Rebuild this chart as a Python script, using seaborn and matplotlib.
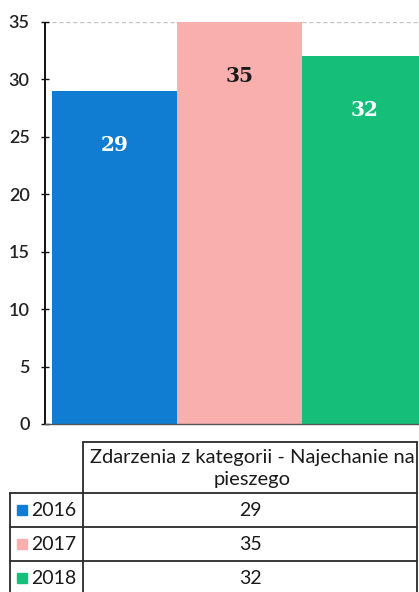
import matplotlib
matplotlib.use("Agg")
import matplotlib.pyplot as plt
from matplotlib.lines import Line2D
from matplotlib.patches import Rectangle
import seaborn as sns
import pandas as pd

# ---- data ----
years = ["2016", "2017", "2018"]
values = [29, 35, 32]
colors = ["#107DD3", "#F9AFAE", "#15BF79"]
label_colors = ["white", "#1a1a1a", "white"]
yticks = [0, 5, 10, 15, 20, 25, 30, 35]
table_title = "Zdarzenia z kategorii - Najechanie na\npieszego"

sns.set_theme(style="white")
plt.rcParams["font.family"] = ["Lato", "DejaVu Sans"]

W, H = 419, 592
fig = plt.figure(figsize=(W / 100, H / 100), dpi=100)

def fx(px):
    return px / W

def fy(py):
    return 1 - py / H

# axes placement (pixels)
ax_l, ax_r, ax_t, ax_b = 45, 419, 22, 424
ax = fig.add_axes([fx(ax_l), fy(ax_b), fx(ax_r - ax_l), (ax_b - ax_t) / H])

df = pd.DataFrame({"year": years, "value": values})
sns.barplot(data=df, x="year", y="value", hue="year", palette=colors,
            width=1.0, legend=False, ax=ax, saturation=1, linewidth=0)

ax.set_xlim(-0.556, 2.436)
ax.set_ylim(0, 35)
ax.set_yticks(yticks)
ax.set_yticklabels([str(t) for t in yticks], fontsize=13, color="#222222",
                   fontweight="semibold")
ax.set_xticks([])
ax.set_xlabel("")
ax.set_ylabel("")
ax.tick_params(axis="y", direction="inout", length=6, width=1, color="#111111", pad=8, left=True)

for s in ["top", "right"]:
    ax.spines[s].set_visible(False)
ax.spines["left"].set_linestyle((0, (2, 1)))
ax.spines["left"].set_color("#111111")
ax.spines["left"].set_linewidth(1.4)
ax.spines["bottom"].set_linestyle((0, (1, 1)))
ax.spines["bottom"].set_color("#555555")
ax.spines["bottom"].set_linewidth(1.0)

ax.axhline(35, color="#c4c4c4", lw=1, ls=(0, (3, 2)), zorder=0.5)

for i, (v, c) in enumerate(zip(values, label_colors)):
    ax.text(i, v - 4.7, str(v), ha="center", va="center", fontsize=14.5,
            fontweight="bold", color=c, family="DejaVu Serif")

# ---- data table ----
lc = "#2a2a2a"
lw = 1.3
def hline(x0, x1, y):
    fig.add_artist(Line2D([fx(x0), fx(x1)], [fy(y), fy(y)], color=lc, lw=lw))

def vline(x, y0, y1):
    fig.add_artist(Line2D([fx(x), fx(x)], [fy(y0), fy(y1)], color=lc, lw=lw))

col0_l, col1_l, col1_r = 10, 83, 417
head_t, head_b = 442, 493
row_h = 34
rows_y = [head_b + i * row_h for i in range(len(years) + 1)]

hline(col1_l, col1_r, head_t)
hline(col0_l, col1_r, head_b)
for y in rows_y[1:]:
    hline(col0_l, col1_r, y)
vline(col1_l, head_t, H + 5)
vline(col1_r, head_t, H + 5)
vline(col0_l, head_b, H + 5)

fig.text(fx((col1_l + col1_r) / 2 + 2), fy((head_t + head_b) / 2 + 1), table_title,
         ha="center", va="center", fontsize=14.5, color="#1a1a1a", linespacing=1.3)

for i, (yr, v, c) in enumerate(zip(years, values, colors)):
    yc = (rows_y[i] + rows_y[i + 1]) / 2
    fig.add_artist(Rectangle((fx(17), fy(yc + 5)), fx(10), 10 / H, color=c,
                             transform=fig.transFigure))
    fig.text(fx(31), fy(yc + 1), yr, ha="left", va="center", fontsize=14,
             color="#1a1a1a")
    fig.text(fx((col1_l + col1_r) / 2), fy(yc + 1), str(v), ha="center",
             va="center", fontsize=14, color="#1a1a1a")

fig.savefig("out.png", dpi=100)
